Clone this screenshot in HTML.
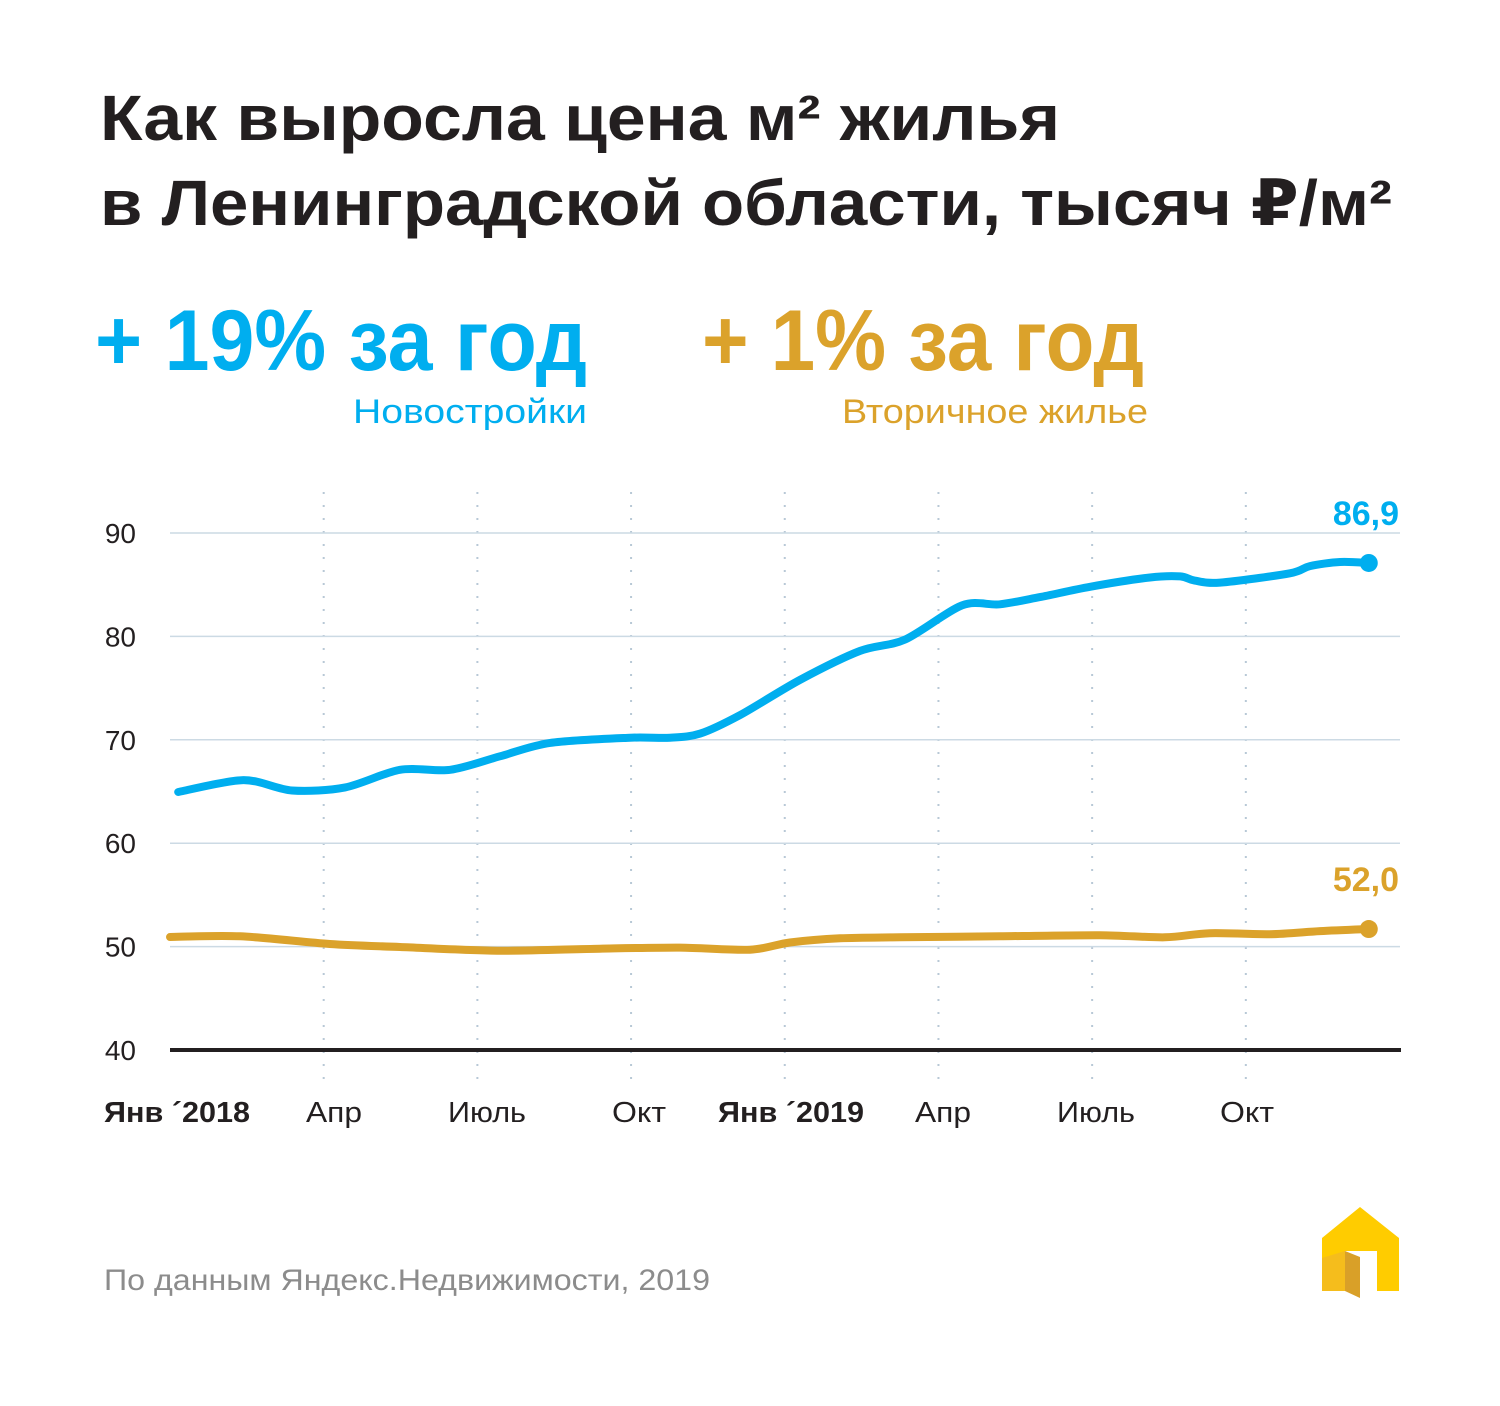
<!DOCTYPE html>
<html><head><meta charset="utf-8"><style>
body{margin:0;background:#fff}
svg{display:block}
text{font-family:"Liberation Sans","DejaVu Sans",sans-serif}
</style></head><body>
<svg id="chart" width="1500" height="1406" viewBox="0 0 1500 1406" xmlns="http://www.w3.org/2000/svg">
<rect width="1500" height="1406" fill="#fff"/>
<g fill="#231f20" font-weight="bold" font-size="64">
<text x="100" y="140" textLength="960" lengthAdjust="spacingAndGlyphs">Как выросла цена м² жилья</text>
<text x="100" y="225" textLength="1292" lengthAdjust="spacingAndGlyphs">в Ленинградской области, тысяч ₽/м²</text>
</g>
<text x="95" y="370" font-size="86" font-weight="bold" fill="#00aeef" textLength="492" lengthAdjust="spacingAndGlyphs">+ 19% за год</text>
<text x="353" y="423" font-size="34" fill="#00aeef" textLength="234" lengthAdjust="spacingAndGlyphs">Новостройки</text>
<text x="702" y="370" font-size="86" font-weight="bold" fill="#dba22b" textLength="442" lengthAdjust="spacingAndGlyphs">+ 1% за год</text>
<text x="842" y="423" font-size="34" fill="#dba22b" textLength="306" lengthAdjust="spacingAndGlyphs">Вторичное жилье</text>
<g id="grid"></g>
<g id="marks"></g>
<text x="104" y="1290" font-size="30" fill="#8c8c8c" textLength="606" lengthAdjust="spacingAndGlyphs">По данным Яндекс.Недвижимости, 2019</text>
<g>
<path d="M1360 1207 L1399 1238 L1399 1291 L1377 1291 L1377 1251 L1345 1251 L1345 1291 L1322 1291 L1322 1238 Z" fill="#ffcc00"/>
<polygon points="1322,1258 1345,1251 1345,1291 1322,1291" fill="#f5bd1c"/>
<polygon points="1345,1251 1360,1257 1360,1298 1345,1291" fill="#d9a028"/>
</g>
</svg>
<script>
const yTicks=[40,50,60,70,80,90];
const xTickMonths=[0,3,6,9,12,15,18,21];
const xTickLabels=["Янв ´2018","Апр","Июль","Окт","Янв ´2019","Апр","Июль","Окт"];
const xTickBold=[true,false,false,false,true,false,false,false];
const newMonths=[0.16,1.43,2.38,3.42,4.49,5.47,6.44,7.42,8.98,9.76,10.35,11.13,12.3,13.47,14.35,15.46,16.2,16.98,17.96,19.13,19.72,20.0,20.5,21.86,22.25,22.84,23.4];
const newValues=[64.95,66.1,65.1,65.4,67.1,67.1,68.4,69.7,70.2,70.2,70.6,72.4,75.8,78.6,79.7,83.0,83.1,83.8,84.8,85.7,85.8,85.4,85.2,86.1,86.8,87.2,87.1];
const secMonths=[0,1.37,3.12,4.49,6.44,8.39,9.95,11.32,12.1,13.08,14.25,16.2,18.15,19.42,20.3,21.47,22.45,23.4];
const secValues=[50.93,51.0,50.25,49.96,49.6,49.8,49.9,49.7,50.4,50.8,50.9,51.0,51.1,50.9,51.3,51.2,51.5,51.7];
const newLast="86,9", secLast="52,0";
const NS="http://www.w3.org/2000/svg";
const X=m=>170+m*51.23;
const Y=v=>1050-(v-40)*10.34;
function el(t,a,p){const e=document.createElementNS(NS,t);for(const k in a)e.setAttribute(k,a[k]);p.appendChild(e);return e;}
const grid=document.getElementById('grid'), marks=document.getElementById('marks');
const labW=[146,56,78,54,146,56,78,54];
const labX=[104,306,448,612,718,915,1057,1220];
xTickMonths.forEach((m,i)=>{
  if(m>0){const l=el('line',{x1:X(m),x2:X(m),y1:492,y2:1085,stroke:'#b8c8d6','stroke-width':2,'stroke-dasharray':'2 11'},grid);
  
  }
  const t=el('text',{x:X(m)-(X(xTickMonths[i])-labX[i]),y:1122,'font-size':29,fill:'#231f20','font-weight':xTickBold[i]?'bold':'normal',textLength:labW[i],lengthAdjust:'spacingAndGlyphs'},grid);
  t.textContent=xTickLabels[i];
  
  
});
yTicks.forEach(v=>{
  if(v>40){const l=el('line',{x1:170,x2:1400,y1:Y(v),y2:Y(v),stroke:'#ccdae4','stroke-width':1.5},grid);
  
  }
  const t=el('text',{x:136,y:Y(v)+10,'font-size':28,fill:'#231f20','text-anchor':'end'},grid);
  t.textContent=v;
  
  
});
const ax=el('line',{x1:170,x2:1401,y1:1050,y2:1050,stroke:'#231f20','stroke-width':4},grid);


function smooth(pts){
  let d='M'+pts[0][0].toFixed(1)+' '+pts[0][1].toFixed(1);
  for(let i=0;i<pts.length-1;i++){
    const p0=pts[Math.max(0,i-1)],p1=pts[i],p2=pts[i+1],p3=pts[Math.min(pts.length-1,i+2)];
    const t=0.15;
    const c1=[p1[0]+(p2[0]-p0[0])*t,p1[1]+(p2[1]-p0[1])*t];
    const c2=[p2[0]-(p3[0]-p1[0])*t,p2[1]-(p3[1]-p1[1])*t];
    d+=' C'+c1.map(v=>v.toFixed(1)).join(' ')+' '+c2.map(v=>v.toFixed(1)).join(' ')+' '+p2[0].toFixed(1)+' '+p2[1].toFixed(1);
  }
  return d;
}
function series(ms,vs,col,name,lab){
  const pts=ms.map((m,i)=>[X(m),Y(vs[i])]);
  const p=el('path',{d:smooth(pts),fill:'none',stroke:col,'stroke-width':8,'stroke-linejoin':'round','stroke-linecap':'round'},marks);
  
  
  const n=ms.length-1;
  const c=el('circle',{cx:X(ms[n]),cy:Y(vs[n]),r:9,fill:col},marks);
  
  
  const t=el('text',{x:1399,y:Y(vs[n])-38,'font-size':34,'font-weight':'bold',fill:col,'text-anchor':'end'},marks);
  t.textContent=lab;
  
  
}
series(newMonths,newValues,'#00aeef','new-build',newLast);
series(secMonths,secValues,'#dba22b','secondary',secLast);
</script>
</body></html>
